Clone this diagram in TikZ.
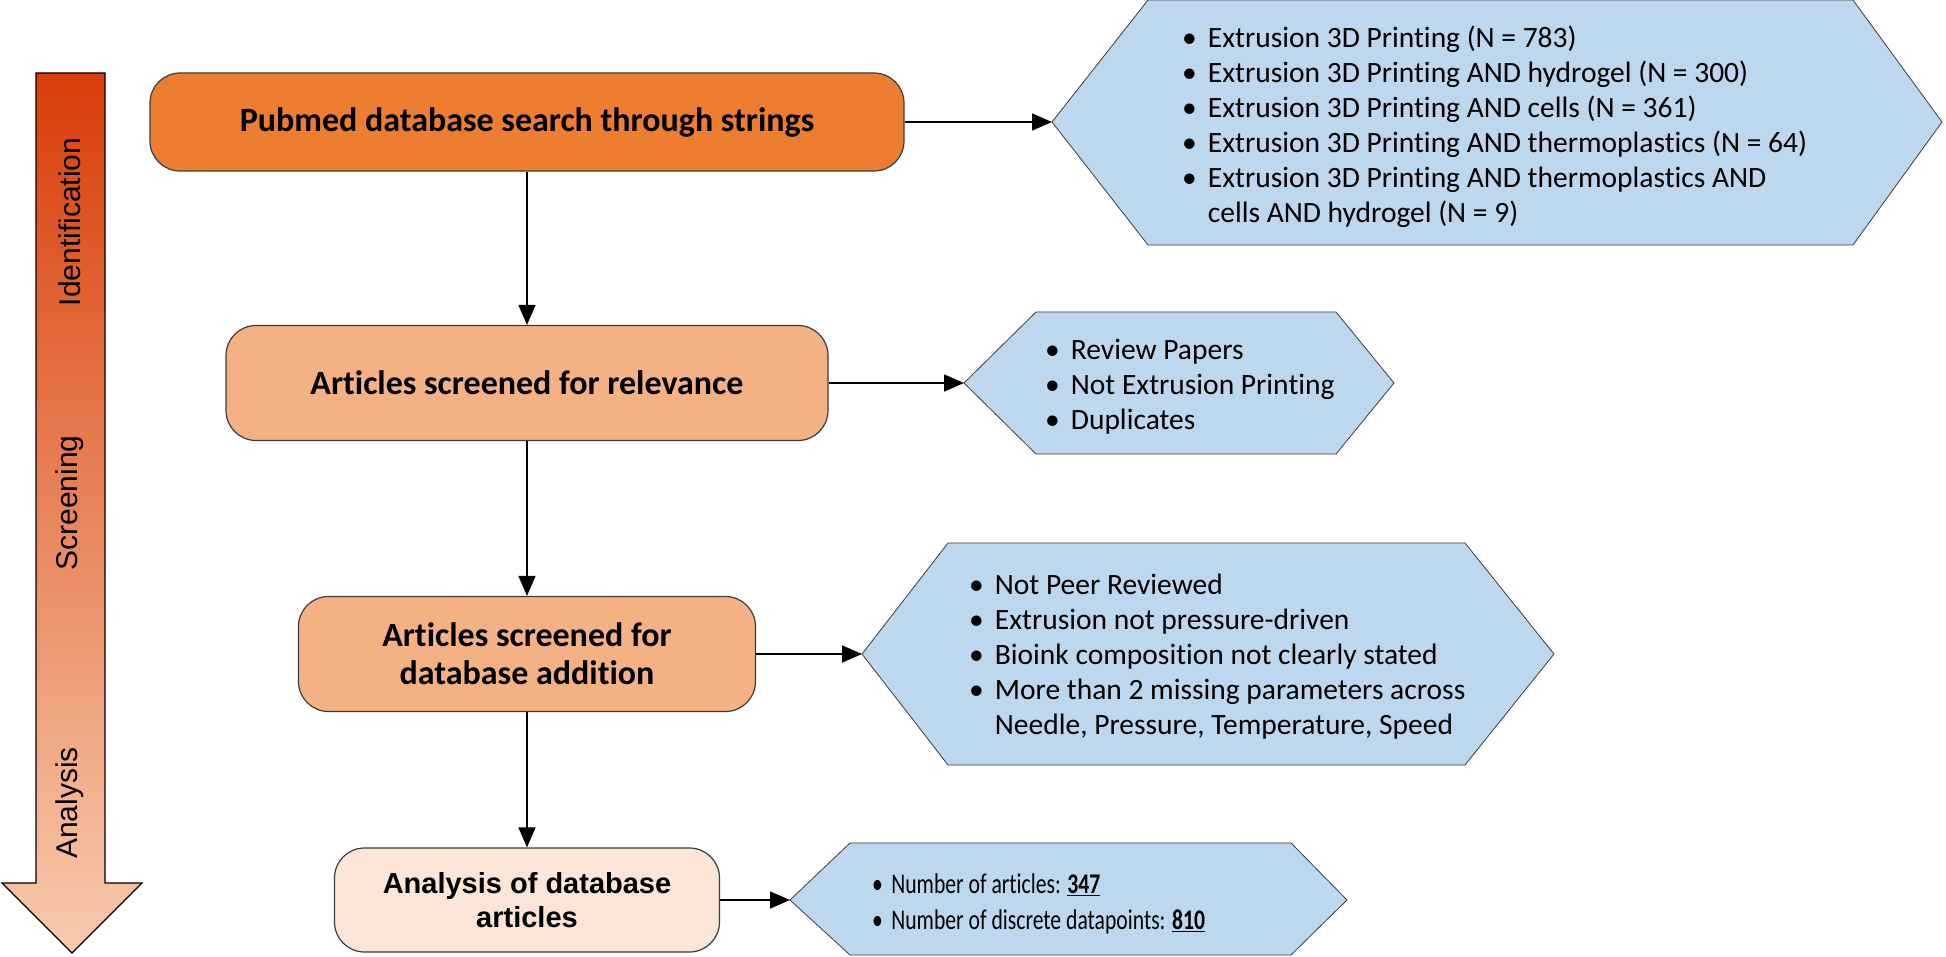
\documentclass[tikz,border=0pt]{standalone}
\usepackage{fontspec}
\setmainfont{Carlito}[Ligatures=NoCommon]
\newfontfamily\arialfont{Liberation Sans}
\usetikzlibrary{arrows.meta}
\definecolor{darkorange}{RGB}{237,125,49}
\definecolor{midorange}{RGB}{244,177,131}
\definecolor{paleorange}{RGB}{251,229,214}
\definecolor{paleblue}{RGB}{189,215,238}
\definecolor{arrowtop}{RGB}{217,62,10}
\definecolor{arrowbottom}{RGB}{248,203,173}
\definecolor{edgegray}{RGB}{60,60,60}

\begin{document}
\begin{tikzpicture}[x=1pt, y=-1pt,
		stage/.style={draw=edgegray, line width=1.2pt, rounded corners=30pt, align=center,
			font=\fontsize{34}{38}\selectfont\bfseries},
		hexbox/.style={draw=edgegray, line width=0.8pt, fill=paleblue},
		bullets/.style={anchor=west, align=left, inner sep=0pt, font=\fontsize{29.5}{35}\selectfont},
		flow/.style={line width=1.6pt, -{Triangle[length=20pt,width=17pt]}},
		phase/.style={rotate=90, font=\arialfont\fontsize{30}{30}\selectfont}
	]
	\useasboundingbox (0,0) rectangle (1946,957);

	% phase arrow on the left
	\shadedraw[top color=arrowtop, bottom color=arrowbottom, draw=black, line width=1.2pt]
		(36,73) -- (105,73) -- (105,883) -- (142,883) -- (72,953) -- (2,883) -- (36,883) -- cycle;
	\node[phase] (ident) at (70,222) {Identification};
	\node[phase] (screen) at (70,503) {Screening};
	\node[phase] (analys) at (70,803) {Analysis};

	% main column
	\node[stage, fill=darkorange, minimum width=754pt, minimum height=98pt]
		(search) at (527,122) {Pubmed database search through strings};
	\node[stage, fill=midorange, minimum width=602pt, minimum height=115pt]
		(relevance) at (527,383) {Articles screened for relevance};
	\node[stage, fill=midorange, minimum width=457pt, minimum height=115pt]
		(addition) at (527,654) {Articles screened for\\database addition};
	\node[stage, fill=paleorange, minimum width=385pt, minimum height=104pt,
		font=\arialfont\fontsize{29}{34}\selectfont\bfseries]
		(analysis) at (527,900) {Analysis of database\\articles};

	% side boxes
	\draw[hexbox] (1052,122) -- (1148,0) -- (1853,0) -- (1942,122) -- (1853,245) -- (1148,245) -- cycle;
	\coordinate (strings) at (1052,122);
	\node[bullets] (stringlist) at (1182,128) {\begin{tabular}{@{}l@{\hspace{11pt}}l@{}}
		\textbullet & Extrusion 3D Printing (N = 783)\\
		\textbullet & Extrusion 3D Printing AND hydrogel (N = 300)\\
		\textbullet & Extrusion 3D Printing AND cells (N = 361)\\
		\textbullet & Extrusion 3D Printing AND thermoplastics (N = 64)\\
		\textbullet & Extrusion 3D Printing AND thermoplastics AND\\
		& cells AND hydrogel (N = 9)
	\end{tabular}};

	\draw[hexbox] (964,383) -- (1036,312) -- (1336,312) -- (1394,383) -- (1336,454) -- (1036,454) -- cycle;
	\coordinate (excl1) at (964,383);
	\node[bullets] (excl1list) at (1045,388) {\begin{tabular}{@{}l@{\hspace{11pt}}l@{}}
		\textbullet & Review Papers\\
		\textbullet & Not Extrusion Printing\\
		\textbullet & Duplicates
	\end{tabular}};

	\draw[hexbox] (862,654) -- (948,543) -- (1465,543) -- (1554,654) -- (1465,765) -- (948,765) -- cycle;
	\coordinate (excl2) at (862,654);
	\node[bullets] (excl2list) at (969,657) {\begin{tabular}{@{}l@{\hspace{11pt}}l@{}}
		\textbullet & Not Peer Reviewed\\
		\textbullet & Extrusion not pressure-driven\\
		\textbullet & Bioink composition not clearly stated\\
		\textbullet & More than 2 missing parameters across\\
		& Needle, Pressure, Temperature, Speed
	\end{tabular}};

	\draw[hexbox] (790,900) -- (850,843) -- (1291,843) -- (1347,900) -- (1291,955) -- (850,955) -- cycle;
	\coordinate (counts) at (790,900);
	\node[bullets] (countlist) at (872,904) {\scalebox{0.76}[1]{\fontsize{28.5}{36}\selectfont
		\begin{tabular}{@{}l@{\hspace{11pt}}l@{}}
		\textbullet & Number of articles: \textbf{\underline{347}}\\
		\textbullet & Number of discrete datapoints: \textbf{\underline{810}}
	\end{tabular}}};

	% connectors
	\draw[flow] (search) -- (relevance);
	\draw[flow] (relevance) -- (addition);
	\draw[flow] (addition) -- (analysis);
	\draw[flow] (search.east) -- (strings);
	\draw[flow] (relevance.east) -- (excl1);
	\draw[flow] (addition.east) -- (excl2);
	\draw[flow] (analysis.east) -- (counts);
\end{tikzpicture}
\end{document}
